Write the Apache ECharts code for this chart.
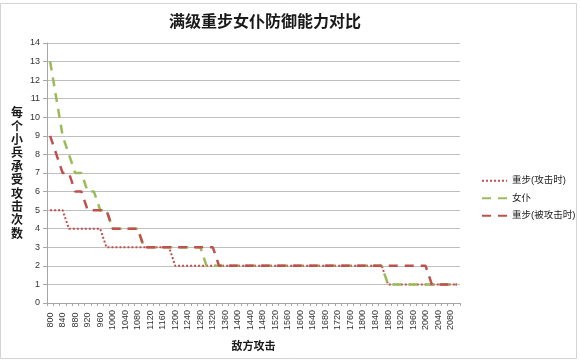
<!DOCTYPE html>
<html>
<head>
<meta charset="utf-8">
<script src="https://cdn.jsdelivr.net/npm/echarts@6/dist/echarts.min.js"></script>
<style>html,body{margin:0;padding:0;background:#fff;}#c{width:580px;height:361px;}</style>
</head>
<body>
<div id="c"></div>
<script>
var titleText = '满级重步女仆防御能力对比';
var yName = '每个小兵承受攻击次数';
var xName = '敌方攻击';
var seriesNames = ['重步(攻击时)', '女仆', '重步(被攻击时)'];
var categories = ['800','820','840','860','880','900','920','940','960','980',
  '1000','1020','1040','1060','1080','1100','1120','1140','1160','1180',
  '1200','1220','1240','1260','1280','1300','1320','1340','1360','1380',
  '1400','1420','1440','1460','1480','1500','1520','1540','1560','1580',
  '1600','1620','1640','1660','1680','1700','1720','1740','1760','1780',
  '1800','1820','1840','1860','1880','1900','1920','1940','1960','1980',
  '2000','2020','2040','2060','2080','2100'];
var heavyAttack = [5,5,5,4,4,4,4,4,4,3,
  3,3,3,3,3,3,3,3,3,3,
  2,2,2,2,2,2,2,2,2,2,
  2,2,2,2,2,2,2,2,2,2,
  2,2,2,2,2,2,2,2,2,2,
  2,2,2,2,1,1,1,1,1,1,
  1,1,1,1,1,1];
var maid = [13,11,9,8,7,7,6,6,5,5,
  4,4,4,4,4,3,3,3,3,3,
  3,3,3,3,3,2,2,2,2,2,
  2,2,2,2,2,2,2,2,2,2,
  2,2,2,2,2,2,2,2,2,2,
  2,2,2,2,1,1,1,1,1,1,
  1,1,1,1,1,1];
var heavyDefend = [9,8,7,7,6,6,5,5,5,5,
  4,4,4,4,4,3,3,3,3,3,
  3,3,3,3,3,3,3,2,2,2,
  2,2,2,2,2,2,2,2,2,2,
  2,2,2,2,2,2,2,2,2,2,
  2,2,2,2,2,2,2,2,2,2,
  2,1,1,1,1,1];

var RED = '#C0504D', GREEN = '#9BBB59';
var FONT = '"Liberation Sans","Noto Sans CJK SC",sans-serif';
var chart = echarts.init(document.getElementById('c'), null, {renderer:'canvas'});
chart.setOption({
  animation: false,
  backgroundColor: '#fff',
  textStyle: {fontFamily: FONT},
  title: {
    text: titleText, left: 164, top: 10,
    textStyle: {fontSize: 16, fontWeight: 'bold', color: '#1a1a1a', fontFamily: FONT}
  },
  graphic: [
    {type: 'rect', silent: true, z: -1,
     shape: {x: 0.5, y: 3.5, width: 576, height: 355},
     style: {fill: 'none', stroke: '#d4d4d4', lineWidth: 1}},
    {type: 'text', left: 11, top: 106,
     style: {text: yName.split('').join('\n'), font: 'bold 12px "Noto Sans CJK SC",sans-serif',
             lineHeight: 13.4, fill: '#1a1a1a'}}
  ],
  legend: {
    orient: 'vertical', left: 476, top: 171, itemGap: 8, itemWidth: 25, itemHeight: 10,
    itemStyle: {opacity: 0},
    textStyle: {fontSize: 9.5, color: '#222', fontFamily: FONT},
    data: seriesNames
  },
  grid: {left: 47, right: 120, top: 43, bottom: 58},
  xAxis: {
    type: 'category', data: categories, boundaryGap: true,
    name: xName, nameLocation: 'middle', nameGap: 38,
    nameTextStyle: {fontSize: 11, fontWeight: 'bold', color: '#1a1a1a', fontFamily: FONT},
    axisLine: {lineStyle: {color: '#a6a6a6', width: 1}},
    axisTick: {show: true, interval: 0, length: 3, lineStyle: {color: '#a6a6a6'}},
    axisLabel: {interval: 1, rotate: 90, align: 'center', verticalAlign: 'middle', margin: 17,
                fontSize: 9, color: '#333', fontFamily: FONT},
    splitLine: {show: false}
  },
  yAxis: {
    type: 'value', min: 0, max: 14, interval: 1,
    axisLine: {show: true, lineStyle: {color: '#a6a6a6', width: 1}},
    axisTick: {show: true, length: 4, lineStyle: {color: '#a6a6a6'}},
    axisLabel: {fontSize: 9, color: '#333', margin: 7, fontFamily: FONT},
    splitLine: {lineStyle: {color: '#bfbfbf', width: 1}}
  },
  series: [
    {name: seriesNames[0], type: 'line', data: heavyAttack, symbol: 'none', z: 2,
     itemStyle: {color: RED},
     lineStyle: {color: RED, width: 2, type: [2, 2]}},
    {name: seriesNames[1], type: 'line', data: maid, symbol: 'none', z: 3,
     itemStyle: {color: GREEN},
     lineStyle: {color: GREEN, width: 2.5, type: [9, 7]}},
    {name: seriesNames[2], type: 'line', data: heavyDefend, symbol: 'none', z: 4,
     itemStyle: {color: RED},
     lineStyle: {color: RED, width: 2.5, type: [9, 7]}}
  ]
});
</script>
</body>
</html>
